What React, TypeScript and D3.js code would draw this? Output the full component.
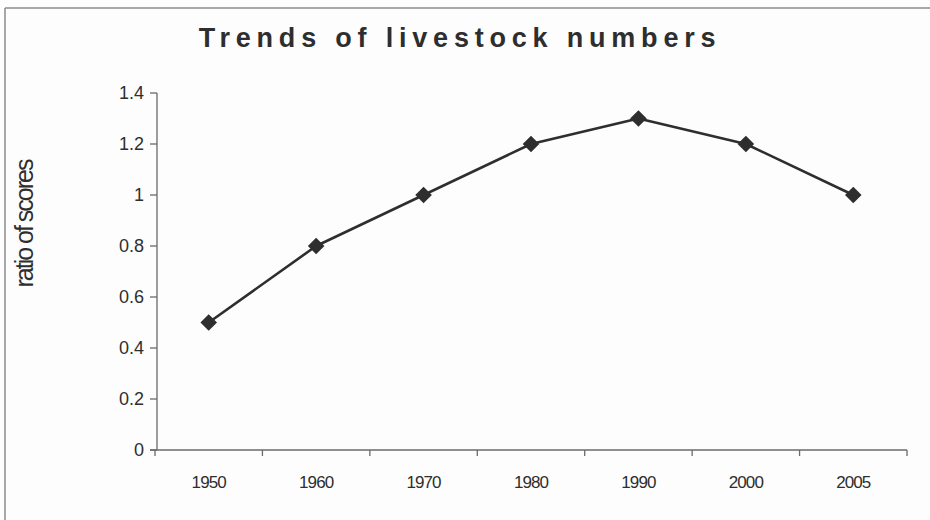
import React from "react";
import * as d3 from "d3";

// Livestock numbers over time, as a ratio of scores
const years = ["1950", "1960", "1970", "1980", "1990", "2000", "2005"];
const ratios = [0.5, 0.8, 1.0, 1.2, 1.3, 1.2, 1.0];
const yTicks = [0, 0.2, 0.4, 0.6, 0.8, 1, 1.2, 1.4];

const chartTitle = "Trends of livestock numbers";
const yTitle = "ratio of scores";

const W = 930;
const H = 520;
const plot = { left: 155, right: 907, top: 93, bottom: 450 };

const ink = "#2e2e2e";
const axisColor = "#6a6a6a";

export default function App() {
  const x = d3
    .scaleBand<string>()
    .domain(years)
    .range([plot.left, plot.right])
    .paddingInner(0)
    .paddingOuter(0);
  const y = d3.scaleLinear().domain([0, 1.4]).range([plot.bottom, plot.top]);

  const cx = (d: string) => (x(d) ?? 0) + x.bandwidth() / 2;
  const line = d3
    .line<number>()
    .x((_, i) => cx(years[i]))
    .y((v) => y(v));

  const diamond = d3.symbol(d3.symbolDiamond2, 175)();
  const axisX = plot.left + 2;
  const bandEdges = years.map((d) => x(d) ?? 0).concat([plot.right]);

  return (
    <svg
      width={W}
      height={H}
      viewBox={`0 0 ${W} ${H}`}
      style={{ position: "absolute", left: 0, top: 0, background: "#ffffff" }}
      fontFamily="Liberation Sans, Arial, sans-serif"
    >
      <rect x={0} y={0} width={W} height={H} fill="#fdfdfd" />
      {/* chart frame (top and left edges) */}
      <line x1={5} y1={8} x2={W} y2={8} stroke="#8a8a8a" strokeWidth={1.5} />
      <line x1={5} y1={8} x2={5} y2={H} stroke="#8a8a8a" strokeWidth={1.5} />

      <text
        x={460}
        y={47}
        textAnchor="middle"
        fontSize={27}
        fontWeight="bold"
        letterSpacing={5.8}
        fill={ink}
      >
        {chartTitle}
      </text>

      {/* y axis */}
      <line x1={axisX} y1={plot.top} x2={axisX} y2={plot.bottom} stroke={axisColor} strokeWidth={1.3} />
      {yTicks.map((t) => (
        <g key={t}>
          <line x1={axisX - 7} x2={axisX} y1={y(t)} y2={y(t)} stroke={axisColor} strokeWidth={1.3} />
          <text
            x={axisX - 13}
            y={y(t)}
            dy="0.35em"
            textAnchor="end"
            fontSize={18}
            fill={ink}
          >
            {d3.format("~g")(t)}
          </text>
        </g>
      ))}
      <text
        transform={`translate(33, 224) rotate(-90)`}
        textAnchor="middle"
        fontSize={25}
        letterSpacing={-2}
        fill={ink}
      >
        {yTitle}
      </text>

      {/* x axis */}
      <line x1={plot.left - 5} y1={plot.bottom} x2={plot.right} y2={plot.bottom} stroke={axisColor} strokeWidth={1.3} />
      {bandEdges.map((e, i) => (
        <line key={i} x1={e} x2={e} y1={plot.bottom} y2={plot.bottom + 6} stroke={axisColor} strokeWidth={1.3} />
      ))}
      {years.map((d) => (
        <text
          key={d}
          x={cx(d)}
          y={plot.bottom + 38}
          textAnchor="middle"
          fontSize={17}
          letterSpacing={-0.9}
          fill={ink}
        >
          {d}
        </text>
      ))}

      {/* series */}
      <path d={line(ratios) ?? ""} fill="none" stroke={ink} strokeWidth={2.6} strokeLinejoin="round" />
      {ratios.map((v, i) => (
        <path
          key={years[i]}
          d={diamond ?? ""}
          transform={`translate(${cx(years[i])}, ${y(v)})`}
          fill={ink}
        />
      ))}
    </svg>
  );
}
